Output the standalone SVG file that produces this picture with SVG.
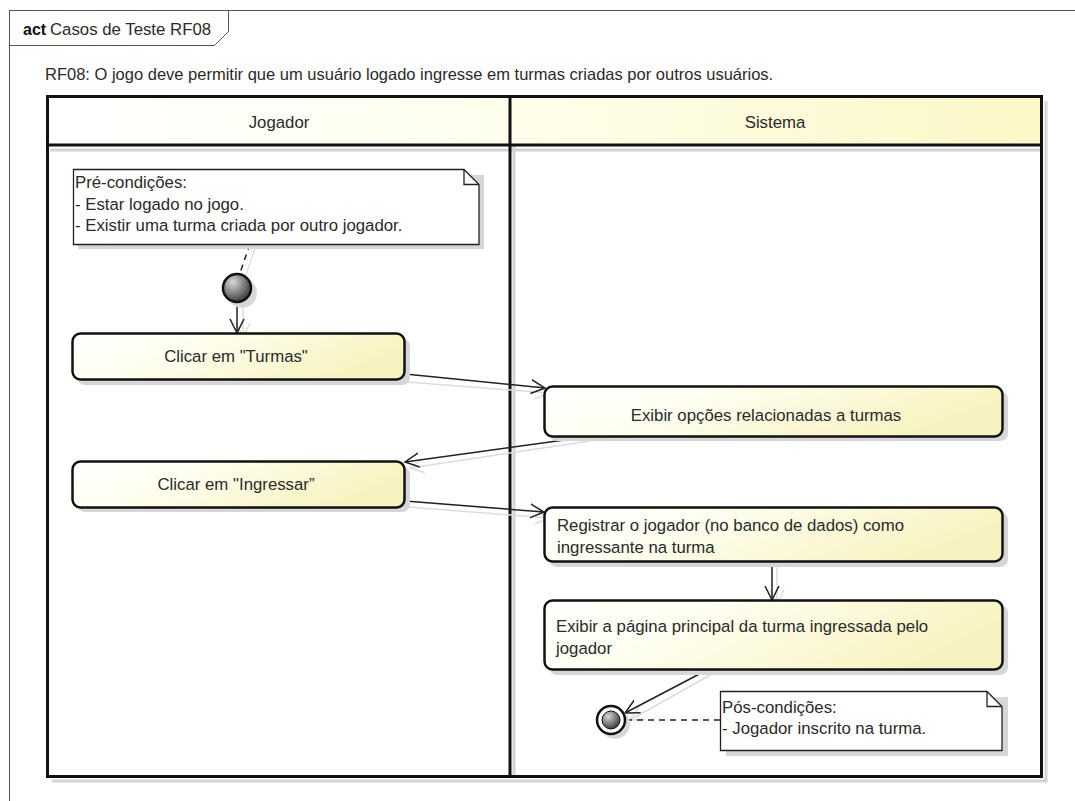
<svg xmlns="http://www.w3.org/2000/svg" width="1075" height="801" viewBox="0 0 1075 801">
<style>
text{font-family:"Liberation Sans",Arial,sans-serif;fill:#2a2a2a;}
.t{font-size:16.8px;}
.node{stroke:#111;stroke-width:2.5;fill:url(#ng);}
.sh{fill:#d6d6d6;stroke:none;}
.note{fill:#fff;stroke:#222;stroke-width:1.3;}
.conn{stroke:#222;stroke-width:1.5;fill:none;marker-end:url(#arr);}
.cs{stroke:#dcdcdc;stroke-width:1.5;fill:none;marker-end:url(#arrs);}
.lane{stroke:#111;stroke-width:3;fill:none;}
.lsh{stroke:#d4d4d4;stroke-width:3;fill:none;}
</style>
<defs>
<linearGradient id="ng" x1="0" y1="0" x2="1" y2="0.3">
<stop offset="0" stop-color="#ffffff"/>
<stop offset="0.35" stop-color="#fffff2"/>
<stop offset="1" stop-color="#f7f3c0"/>
</linearGradient>
<linearGradient id="hg" x1="0" y1="0" x2="1" y2="0">
<stop offset="0" stop-color="#ffffff"/>
<stop offset="0.4" stop-color="#fffff0"/>
<stop offset="1" stop-color="#fbf7c6"/>
</linearGradient>
<radialGradient id="dot" cx="0.35" cy="0.3" r="0.8">
<stop offset="0" stop-color="#d8d8d8"/>
<stop offset="0.6" stop-color="#707070"/>
<stop offset="1" stop-color="#2a2a2a"/>
</radialGradient>
<marker id="arr" markerUnits="userSpaceOnUse" markerWidth="16" markerHeight="16" refX="14" refY="7" orient="auto" viewBox="0 0 16 14">
<path d="M0,0 L14,7 L0,14" fill="none" stroke="#222" stroke-width="1.5"/>
</marker>
<marker id="arrs" markerUnits="userSpaceOnUse" markerWidth="16" markerHeight="16" refX="14" refY="7" orient="auto" viewBox="0 0 16 14">
<path d="M0,0 L14,7 L0,14" fill="none" stroke="#dcdcdc" stroke-width="1.5"/>
</marker>
</defs>
<rect width="1075" height="801" fill="#fff"/>
<g id="frame">
<rect x="9.5" y="10.5" width="1080" height="800" fill="none" stroke="#555" stroke-width="1"/>
<path d="M9.5,45.5 L214.5,45.5 L228.5,31.5 L228.5,10.5" fill="none" stroke="#555" stroke-width="1"/>
<text x="23" y="35" style="font-size:16px;font-weight:bold;fill:#111">act</text>
<text x="50" y="35" style="font-size:16.8px">Casos de Teste RF08</text>
<text x="45" y="80" style="font-size:16.5px">RF08: O jogo deve permitir que um usuário logado ingresse em turmas criadas por outros usuários.</text>
</g>
<g id="lanes">
<path class="lsh" d="M1046,101 V781 H52"/>
<path class="lsh" d="M514,101 V777 M50,150 H1040"/>
<rect x="48.5" y="97.5" width="992" height="48" fill="url(#hg)"/>
<rect class="lane" x="47.5" y="96.5" width="994" height="680"/>
<path class="lane" d="M47.5,145 H1041.5 M510,96.5 V776.5"/>
<text x="279" y="128" text-anchor="middle" class="t">Jogador</text>
<text x="775" y="128" text-anchor="middle" class="t">Sistema</text>
</g>
<g id="connectors">
<path class="cs" d="M243,305 L243,337"/>
<path class="cs" d="M407,382 L549,393"/>
<path class="cs" d="M590,441 L410,468"/>
<path class="cs" d="M408,507 L549,518"/>
<path class="cs" d="M777,563 L777,604"/>
<path class="cs" d="M712,674 L630,720"/>
<path d="M256,245 L246,275" stroke="#dcdcdc" stroke-width="1.2" fill="none"/>
<path class="conn" d="M237,302 L237,333"/>
<path class="conn" d="M405,374 L545,388"/>
<path class="conn" d="M586,437 L405,462"/>
<path class="conn" d="M405,501 L544,512"/>
<path class="conn" d="M772,561 L772,600"/>
<path class="conn" d="M707,670 L625,713"/>
<path d="M250,244 L240,273" stroke="#222" stroke-width="1.5" stroke-dasharray="6,5" fill="none"/>
<path d="M626,720 L720,720" stroke="#222" stroke-width="1.5" stroke-dasharray="6,5" fill="none"/>
</g>
<g id="pre-note">
<path class="sh" d="M78,175 H484 V249 H78 Z"/>
<path class="note" d="M73.5,169.5 H464 L479,184.5 V244.5 H73.5 Z"/>
<path d="M464,169.5 V184.5 H479" fill="none" stroke="#222" stroke-width="1.3"/>
<text x="75" y="188" class="t">Pré-condições:</text>
<text x="75" y="209.5" class="t">- Estar logado no jogo.</text>
<text x="75" y="231" class="t">- Existir uma turma criada por outro jogador.</text>
</g>
<g id="initial">
<circle cx="242" cy="293" r="15" fill="#d8d8d8"/>
<circle cx="237" cy="288" r="14" fill="url(#dot)" stroke="#111" stroke-width="2.5"/>
</g>
<g id="clicar-turmas">
<rect class="sh" x="77" y="338" width="333" height="47" rx="8"/>
<rect class="node" x="72.5" y="333.5" width="332" height="46" rx="8"/>
<text x="236" y="362" text-anchor="middle" class="t">Clicar em "Turmas"</text>
</g>
<g id="exibir-opcoes">
<rect class="sh" x="549" y="391" width="459" height="50" rx="8"/>
<rect class="node" x="544.5" y="386.5" width="458" height="50" rx="8"/>
<text x="766" y="421" text-anchor="middle" class="t">Exibir opções relacionadas a turmas</text>
</g>
<g id="clicar-ingressar">
<rect class="sh" x="77" y="466" width="333" height="46" rx="8"/>
<rect class="node" x="72.5" y="461.5" width="332" height="46" rx="8"/>
<text x="236" y="490" text-anchor="middle" class="t">Clicar em "Ingressar”</text>
</g>
<g id="registrar">
<rect class="sh" x="549" y="512" width="459" height="55" rx="8"/>
<rect class="node" x="544.5" y="507.5" width="458" height="54" rx="8"/>
<text x="557" y="531" class="t">Registrar o jogador (no banco de dados) como</text>
<text x="557" y="553" class="t">ingressante na turma</text>
</g>
<g id="exibir-pagina">
<rect class="sh" x="549" y="605" width="459" height="70" rx="8"/>
<rect class="node" x="544.5" y="600.5" width="458" height="69" rx="8"/>
<text x="556" y="632" class="t">Exibir a página principal da turma ingressada pelo</text>
<text x="556" y="654" class="t">jogador</text>
</g>
<g id="final">
<circle cx="615" cy="724" r="15" fill="#d8d8d8"/>
<circle cx="611" cy="720" r="14" fill="#fff" stroke="#111" stroke-width="2.5"/>
<circle cx="611" cy="720" r="9" fill="url(#dot)" stroke="#111" stroke-width="1"/>
</g>
<g id="post-note">
<path class="sh" d="M726,697 H1008 V756 H726 Z"/>
<path class="note" d="M720.5,691.5 H987 L1002,706.5 V750.5 H720.5 Z"/>
<path d="M987,691.5 V706.5 H1002" fill="none" stroke="#222" stroke-width="1.3"/>
<text x="722" y="713" class="t">Pós-condições:</text>
<text x="722" y="734" class="t">- Jogador inscrito na turma.</text>
</g>
</svg>
